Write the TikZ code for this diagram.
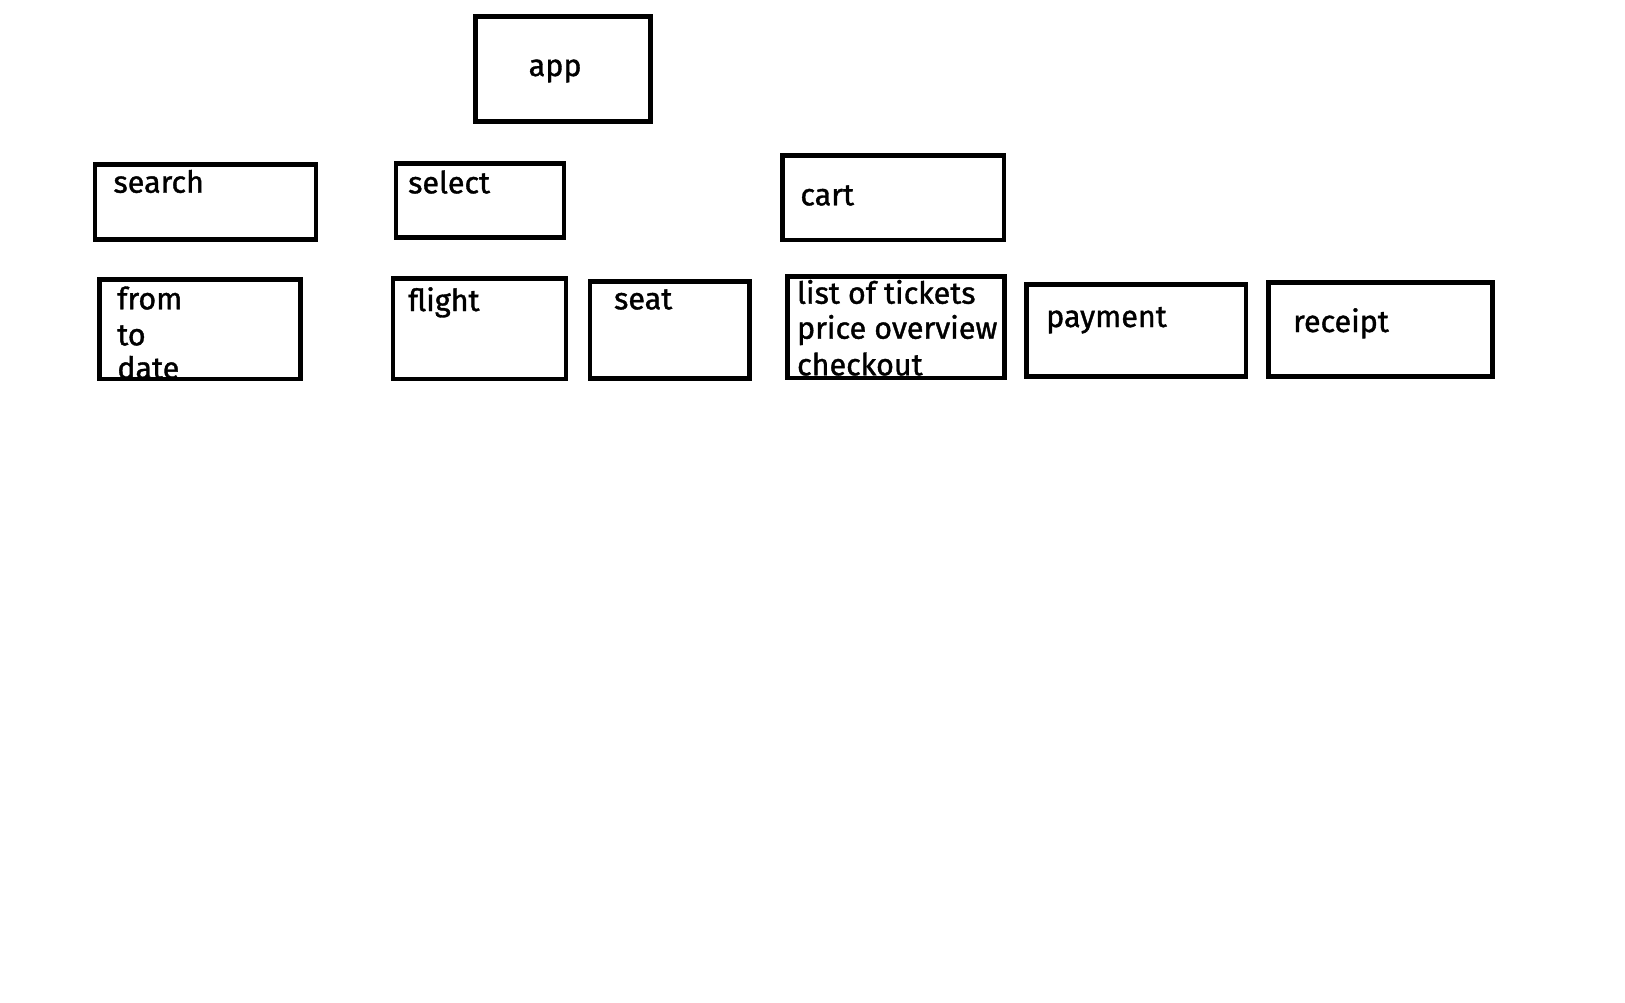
\documentclass[tikz,border=0pt]{standalone}
\usepackage{fontspec}
\setmainfont{Fira Sans}[FakeBold=1.2]
\tikzset{
    screen box/.style={
        draw=black,
        line width=4.6pt,
        inner sep=0pt,
        outer sep=0pt,
        anchor=north west
    },
    screen text/.style={
        inner sep=0pt,
        anchor=base west,
        font=\fontsize{30.5}{35}\selectfont
    }
}
\begin{document}
\begin{tikzpicture}[x=1pt, y=-1pt]
                \useasboundingbox (0,0) rectangle (1625,1002);
                % top level
                \node[screen box, minimum width=174.5pt, minimum height=105pt] (app) at (475.7,16.3) {};
                % pages
                \node[screen box, minimum width=221.2pt, minimum height=75pt] (search) at (94.9,164.7) {};
                \node[screen box, minimum width=168pt, minimum height=73.6pt] (select) at (396.1,163.7) {};
                \node[screen box, minimum width=221.3pt, minimum height=84.3pt] (cart) at (782.7,155.7) {};
                % parts of the pages
                \node[screen box, minimum width=200.9pt, minimum height=99.3pt] (fields) at (99.5,279.7) {};
                \node[screen box, minimum width=173pt, minimum height=100.3pt] (flight) at (393,278.7) {};
                \node[screen box, minimum width=159.2pt, minimum height=96.6pt] (seat) at (590.1,281.7) {};
                \node[screen box, minimum width=217pt, minimum height=101.3pt] (tickets) at (787.5,276.7) {};
                \node[screen box, minimum width=219.9pt, minimum height=91.6pt] (payment) at (1026.2,284.7) {};
                \node[screen box, minimum width=224.2pt, minimum height=93.6pt] (receipt) at (1268.3,282.7) {};
                % labels
                \node[screen text] (app text) at (528.5,76) {app};
                \node[screen text] (search text) at (113.3,192.7) {search};
                \node[screen text] (select text) at (408,193.3) {select};
                \node[screen text] (cart text) at (800.2,205.3) {cart};
                \node[screen text] (from text) at (117.1,309.3) {from};
                \node[screen text] (to text) at (117.1,345.3) {to};
                \node[screen text] (date text) at (117.1,378.7) {date};
                \node[screen text] (flight text) at (408,311) {flight};
                \node[screen text] (seat text) at (613.9,309.3) {seat};
                \node[screen text] (tickets text) at (796.9,303.7) {list of tickets};
                \node[screen text] (price text) at (796.9,338.7) {price overview};
                \node[screen text] (checkout text) at (796.9,375.3) {checkout};
                \node[screen text] (payment text) at (1046,327) {payment};
                \node[screen text] (receipt text) at (1292.9,332) {receipt};
            \end{tikzpicture}
\end{document}
